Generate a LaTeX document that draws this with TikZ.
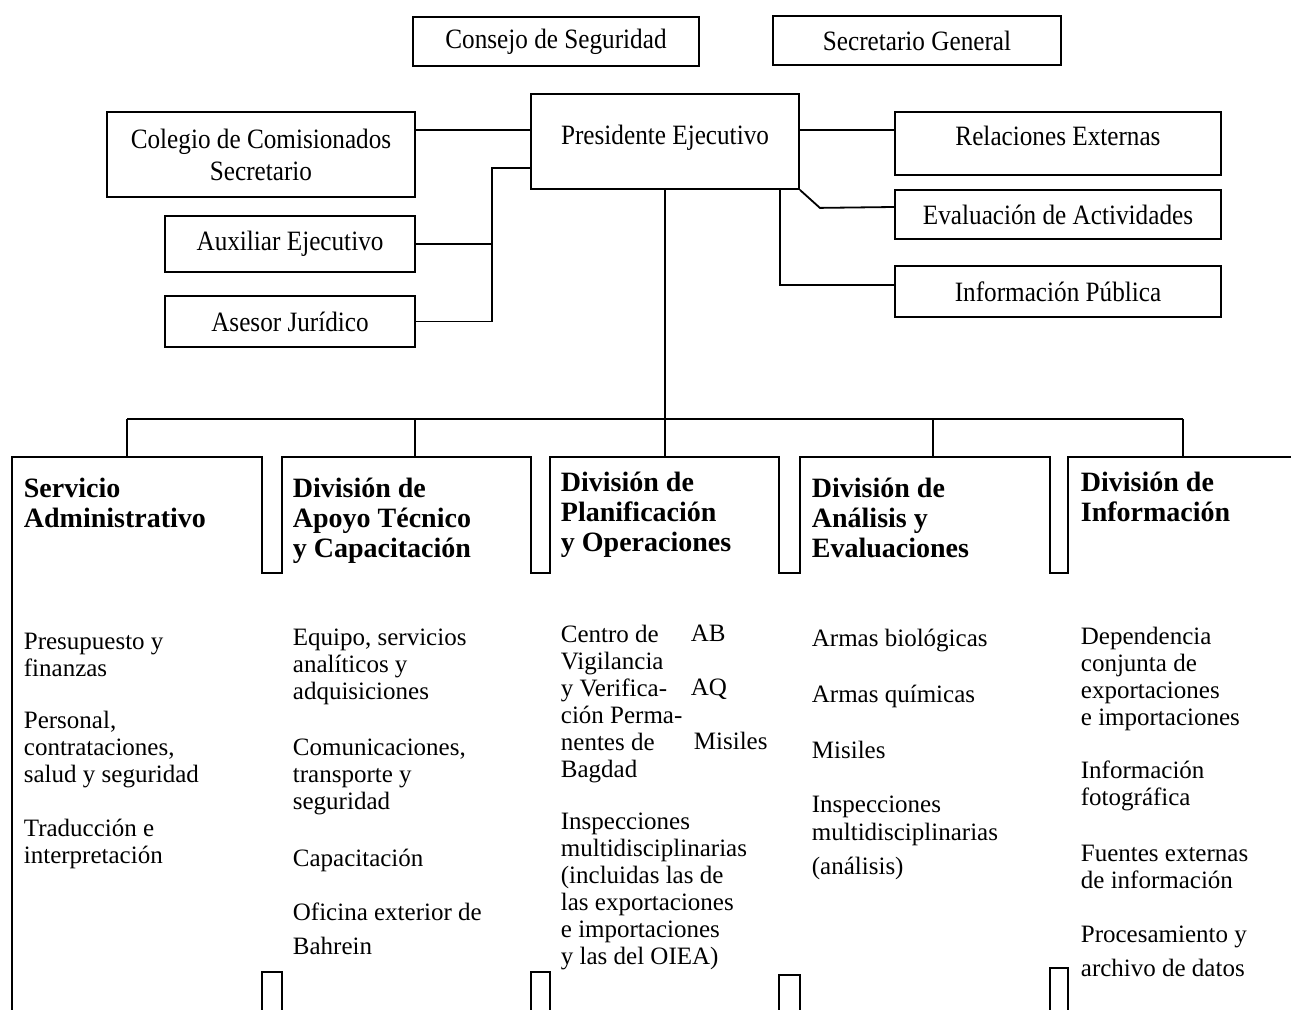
\documentclass[tikz,border=0pt]{standalone}
\usepackage{fontspec}
\setmainfont{Liberation Serif}
\newfontfamily\boxfont[FakeStretch=0.9]{Liberation Serif}
\usetikzlibrary{calc}

\tikzset{
  unit/.style={draw, inner sep=0pt, align=center,
    font=\boxfont\fontsize{14pt}{16pt}\selectfont},
  head/.style={anchor=north west, inner sep=0pt, align=left,
    font=\fontsize{14pt}{15pt}\selectfont\bfseries},
  task/.style={anchor=north west, inner sep=0pt, align=left,
    font=\fontsize{12.5pt}{13.5pt}\selectfont},
}

\begin{document}
\begin{tikzpicture}[x=0.5pt, y=-0.5pt, line width=0.9pt]
                \useasboundingbox (0,0) rectangle (1291,1010);

                % upper units
                \node[unit, minimum width=143pt, minimum height=24.5pt] (consejo) at (556,41.5) {Consejo de Seguridad};
                \node[unit, minimum width=144pt, minimum height=24.5pt] (secretario) at (917,40.5) {Secretario General};
                \node[unit, minimum width=134pt, minimum height=47.5pt, text depth=7pt] (presidente) at (665,141.5) {Presidente Ejecutivo};
                \node[unit, minimum width=154pt, minimum height=42.5pt] (colegio) at (261,154.5) {Colegio de Comisionados\\Secretario};
                \node[unit, minimum width=125pt, minimum height=28pt] (auxiliar) at (290,244) {Auxiliar Ejecutivo};
                \node[unit, minimum width=125pt, minimum height=25.5pt] (asesor) at (290,321.5) {Asesor Jurídico};
                \node[unit, minimum width=163pt, minimum height=31.5pt, text depth=8pt] (relaciones) at (1058,143.5) {Relaciones Externas};
                \node[unit, minimum width=163pt, minimum height=24.5pt] (evaluacion) at (1058,214.5) {Evaluación de Actividades};
                \node[unit, minimum width=163pt, minimum height=25.5pt] (informacion) at (1058,291.5) {Información Pública};

                \coordinate (pw1) at ([yshift=-18.5pt]presidente.north west);
                \coordinate (pe1) at ([yshift=-18.5pt]presidente.north east);
                \coordinate (pw2) at ([yshift=-37.5pt]presidente.north west);
                \coordinate (lbus) at ([xshift=38pt]asesor.east);

                \draw (pw1) -- (pw1 -| colegio.east);
                \draw (pe1) -- (pe1 -| relaciones.west);
                \draw (pw2) -| (lbus) -- (asesor.east);
                \draw (auxiliar.east) -- (auxiliar.east -| lbus);
                \draw (presidente.south east) -- ++(20,18) -- ([yshift=3.75pt]evaluacion.west);
                \draw ([xshift=-10pt]presidente.south east) |- ([yshift=3.25pt]informacion.west);

                % divisions
                \coordinate (bus) at (0,419);
                \coordinate (d1) at (127,457);
                \coordinate (d2) at (415,457);
                \coordinate (d3) at (665,457);
                \coordinate (d4) at (933,457);
                \coordinate (d5) at (1183,457);

                \draw (presidente.south) -- (d3);
                \draw (d1 |- bus) -- (d5 |- bus);
                \foreach \i in {1,2,4,5}
                    \draw (d\i |- bus) -- (d\i);

                \draw (12,1010) -- (12,457) -- (262,457) -- (262,573) -- (282,573) -- (282,457)
                    -- (531,457) -- (531,573) -- (550,573) -- (550,457)
                    -- (779,457) -- (779,573) -- (800,573) -- (800,457)
                    -- (1050,457) -- (1050,573) -- (1068,573) -- (1068,457) -- (1291,457);
                \foreach \a/\b/\t in {262/282/972, 531/550/972, 779/800/975, 1050/1068/968}
                    \draw (\a,1010) -- (\a,\t) -- (\b,\t) -- (\b,1010);

                \node[head] (hsrv) at (23,477) {Servicio\\Administrativo};
                \node[head] (hapoyo) at (292,477) {División de\\Apoyo Técnico\\y Capacitación};
                \node[head] (hplan) at (560,471) {División de\\Planificación\\y Operaciones};
                \node[head] (hanal) at (811,477) {División de\\Análisis y\\Evaluaciones};
                \node[head] (hinfo) at (1080,471) {División de\\Información};

                \node[task] (lsrv) at (23,632.5) {Presupuesto y\\finanzas\\[12.5pt]Personal,\\contrataciones,\\salud y seguridad\\[13.5pt]Traducción e\\interpretación};
                \node[task] (lapoyo) at (292,628.5) {Equipo, servicios\\analíticos y\\adquisiciones\\[14.5pt]Comunicaciones,\\transporte y\\seguridad\\[15pt]Capacitación\\[13.5pt]Oficina exterior de\\[3.5pt]Bahrein};
                \node[task] (lplan) at (560,624.5) {Centro de\\Vigilancia\\y Verifica-\\ción Perma-\\nentes de\\Bagdad\\[12.5pt]Inspecciones\\multidisciplinarias\\(incluidas las de\\las exportaciones\\e importaciones\\y las del OIEA)};
                \node[task] (ramas) at (690,624.5) {AB\\[13.5pt]AQ\\[13.5pt]\hspace{1.5pt}Misiles};
                \node[task] (lanal) at (811,628.5) {Armas biológicas\\[14.5pt]Armas químicas\\[14.5pt]Misiles\\[13.5pt]Inspecciones\\[0.5pt]multidisciplinarias\\[3.5pt](análisis)};
                \node[task] (linfo) at (1080,626.5) {Dependencia\\conjunta de\\exportaciones\\e importaciones\\[13pt]Información\\fotográfica\\[14.5pt]Fuentes externas\\de información\\[13.5pt]Procesamiento y\\[3.5pt]archivo de datos};
            \end{tikzpicture}
\end{document}
